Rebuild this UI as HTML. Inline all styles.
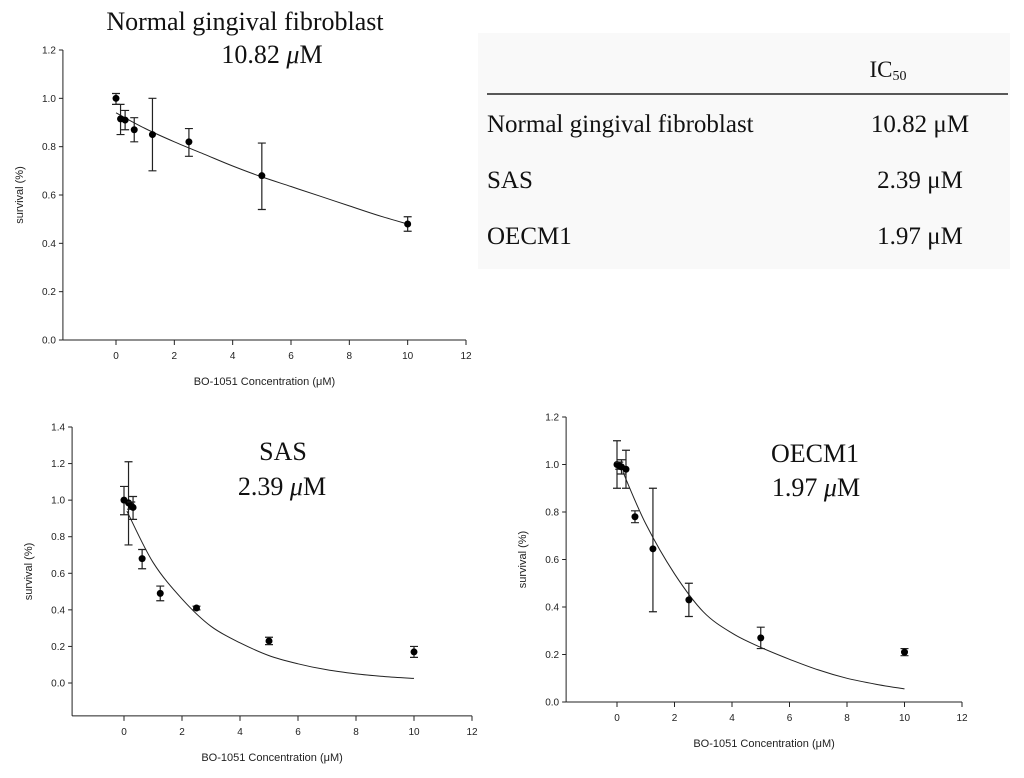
<!DOCTYPE html>
<html><head><meta charset="utf-8">
<style>
html,body{margin:0;padding:0;background:#fff;}
body{width:1024px;height:778px;position:relative;overflow:hidden;font-family:"Liberation Sans",sans-serif;}
svg{position:absolute;left:0;top:0;}
.ser{font-family:"Liberation Serif",serif;fill:#111;}
.tk{font-size:10px;fill:#222;font-family:"Liberation Sans",sans-serif;}
.at{font-size:11px;fill:#222;font-family:"Liberation Sans",sans-serif;}
</style></head>
<body>
<svg id="svg" width="1024" height="778" viewBox="0 0 1024 778">
  <g>
    <rect x="478" y="33" width="532" height="236" fill="#f9f9f9"/>
    <text class="ser" x="888" y="77" font-size="23" text-anchor="middle">IC<tspan font-size="14" dy="3">50</tspan></text>
    <line x1="487" y1="94" x2="1008" y2="94" stroke="#222" stroke-width="1.5"/>
    <text class="ser" x="487" y="132" font-size="25">Normal gingival fibroblast</text>
    <text class="ser" x="920" y="132" font-size="25" text-anchor="middle">10.82 μM</text>
    <text class="ser" x="487" y="188" font-size="25">SAS</text>
    <text class="ser" x="920" y="188" font-size="25" text-anchor="middle">2.39 μM</text>
    <text class="ser" x="487" y="244" font-size="25">OECM1</text>
    <text class="ser" x="920" y="244" font-size="25" text-anchor="middle">1.97 μM</text>
  </g>
  <text class="ser" x="245" y="30" font-size="26" text-anchor="middle">Normal gingival fibroblast</text>
  <text class="ser" x="272" y="63" font-size="26" text-anchor="middle">10.82 <tspan font-style="italic">μ</tspan>M</text>
  <text class="ser" x="283" y="460" font-size="26" text-anchor="middle">SAS</text>
  <text class="ser" x="282" y="495" font-size="26" text-anchor="middle">2.39 <tspan font-style="italic">μ</tspan>M</text>
  <text class="ser" x="815" y="462" font-size="26" text-anchor="middle">OECM1</text>
  <text class="ser" x="816" y="496" font-size="26" text-anchor="middle">1.97 <tspan font-style="italic">μ</tspan>M</text>
</svg>
<script>
const xTicks = [0,2,4,6,8,10,12];
const curveX = [0,1,2,3,4,5,6,7,8,9,10];

// Fibroblast
const fibDoses = [0, 0.156, 0.3125, 0.625, 1.25, 2.5, 5, 10];
const fibMean = [1.0, 0.915, 0.91, 0.87, 0.85, 0.82, 0.68, 0.48];
const fibLo = [0.975, 0.85, 0.87, 0.82, 0.70, 0.76, 0.54, 0.45];
const fibHi = [1.02, 0.975, 0.95, 0.92, 1.0, 0.875, 0.815, 0.51];
const fibCurve = [0.94, 0.875, 0.82, 0.77, 0.72, 0.675, 0.635, 0.595, 0.555, 0.515, 0.48];
const fibYTicks = [0.0,0.2,0.4,0.6,0.8,1.0,1.2];

// SAS
const sasDoses = [0, 0.156, 0.25, 0.3125, 0.625, 1.25, 2.5, 5, 10];
const sasMean = [1.0, 0.985, 0.97, 0.96, 0.68, 0.49, 0.41, 0.23, 0.17];
const sasLo = [0.92, 0.755, 0.95, 0.895, 0.625, 0.45, 0.40, 0.21, 0.14];
const sasHi = [1.075, 1.21, 0.99, 1.02, 0.73, 0.53, 0.42, 0.25, 0.20];
const sasCurveX = [0.1,1,2,3,4,5,6,7,8,9,10];
const sasCurve = [0.94, 0.66, 0.46, 0.31, 0.22, 0.15, 0.105, 0.072, 0.05, 0.035, 0.025];
const sasYTicks = [0.0,0.2,0.4,0.6,0.8,1.0,1.2,1.4];

// OECM1
const oeDoses = [0, 0.078, 0.156, 0.3125, 0.625, 1.25, 2.5, 5, 10];
const oeMean = [1.0, 0.995, 0.99, 0.98, 0.78, 0.645, 0.43, 0.27, 0.21];
const oeLo = [0.9, 0.98, 0.96, 0.9, 0.755, 0.38, 0.36, 0.225, 0.195];
const oeHi = [1.1, 1.01, 1.02, 1.06, 0.805, 0.9, 0.50, 0.315, 0.225];
const oeCurveX = [0.2,1,2,3,4,5,6,7,8,9,10];
const oeCurve = [0.97, 0.75, 0.54, 0.38, 0.29, 0.23, 0.18, 0.135, 0.10, 0.075, 0.055];
const oeYTicks = [0.0,0.2,0.4,0.6,0.8,1.0,1.2];

const NS = "http://www.w3.org/2000/svg";
const svg = document.getElementById('svg');
function mk(tag, attrs, parent){
  const e = document.createElementNS(NS, tag);
  for (const k in attrs) e.setAttribute(k, attrs[k]);
  parent.appendChild(e); return e;
}
function smoothPath(pts){
  let d = `M${pts[0][0].toFixed(1)},${pts[0][1].toFixed(1)}`;
  for (let i=0;i<pts.length-1;i++){
    const p0 = pts[Math.max(0,i-1)], p1 = pts[i], p2 = pts[i+1], p3 = pts[Math.min(pts.length-1,i+2)];
    const c1 = [p1[0]+(p2[0]-p0[0])/6, p1[1]+(p2[1]-p0[1])/6];
    const c2 = [p2[0]-(p3[0]-p1[0])/6, p2[1]-(p3[1]-p1[1])/6];
    d += ` C${c1[0].toFixed(1)},${c1[1].toFixed(1)} ${c2[0].toFixed(1)},${c2[1].toFixed(1)} ${p2[0].toFixed(1)},${p2[1].toFixed(1)}`;
  }
  return d;
}

function plot(cfg){
  const g = mk('g', {}, svg);
  
  
  const sx = v => cfg.x0 + v * (cfg.x12 - cfg.x0) / 12;
  const sy = v => cfg.y0 + v * (cfg.yTop - cfg.y0) / cfg.yTopVal;
  const axX = sx(cfg.xmin), axY = sy(cfg.ymin);
  const yAxis = mk('line', {x1:axX, y1:sy(cfg.yTopVal), x2:axX, y2:axY, stroke:'#222', 'stroke-width':1}, g);
  
  
  const xAxis = mk('line', {x1:axX, y1:axY, x2:sx(12), y2:axY, stroke:'#222', 'stroke-width':1}, g);
  
  
  cfg.yTicks.forEach(t => {
    const y = sy(t);
    const l = mk('line', {x1:axX-4, y1:y, x2:axX, y2:y, stroke:'#222'}, g);
    
    
    const tx = mk('text', {x:axX-7, y:y+3.5, 'text-anchor':'end', class:'tk'}, g);
    tx.textContent = t.toFixed(1);
    
    
  });
  xTicks.forEach(t => {
    const x = sx(t);
    const l = mk('line', {x1:x, y1:axY, x2:x, y2:axY+5, stroke:'#222'}, g);
    
    
    const tx = mk('text', {x:x, y:axY+19, 'text-anchor':'middle', class:'tk'}, g);
    tx.textContent = String(t);
    
    
  });
  const xt = mk('text', {x:(axX+sx(12))/2, y:axY+45, 'text-anchor':'middle', class:'at'}, g);
  xt.textContent = 'BO-1051 Concentration (μM)';
  
  
  const ym = (sy(cfg.yTopVal)+axY)/2;
  const yt = mk('text', {x:axX-40, y:ym, 'text-anchor':'middle', class:'at', transform:`rotate(-90 ${axX-40} ${ym})`}, g);
  yt.textContent = 'survival (%)';
  
  
  const pts = cfg.cx.map((x,i) => [sx(x), sy(cfg.cy[i])]);
  const p = mk('path', {d:smoothPath(pts), fill:'none', stroke:'#222', 'stroke-width':1}, g);
  
  
  cfg.dx.forEach((x,i) => {
    const X = sx(x);
    const e = mk('path', {d:`M${X},${sy(cfg.lo[i])} V${sy(cfg.hi[i])} M${X-4},${sy(cfg.lo[i])} H${X+4} M${X-4},${sy(cfg.hi[i])} H${X+4}`, stroke:'#222', fill:'none', 'stroke-width':1.2}, g);
    
    
    const c = mk('circle', {cx:X, cy:sy(cfg.m[i]), r:3.5, fill:'#000'}, g);
    
    
  });
}

plot({name:'chart-fibroblast', x0:116, x12:466, y0:340, yTop:50, yTopVal:1.2, xmin:-1.82, ymin:0,
  yTicks:fibYTicks, dx:fibDoses, m:fibMean, lo:fibLo, hi:fibHi, cx:curveX, cy:fibCurve});
plot({name:'chart-sas', x0:124, x12:472, y0:683, yTop:427, yTopVal:1.4, xmin:-1.79, ymin:-0.18,
  yTicks:sasYTicks, dx:sasDoses, m:sasMean, lo:sasLo, hi:sasHi, cx:sasCurveX, cy:sasCurve});
plot({name:'chart-oecm1', x0:617, x12:962, y0:702, yTop:417, yTopVal:1.2, xmin:-1.77, ymin:0,
  yTicks:oeYTicks, dx:oeDoses, m:oeMean, lo:oeLo, hi:oeHi, cx:oeCurveX, cy:oeCurve});
</script>
</body></html>
